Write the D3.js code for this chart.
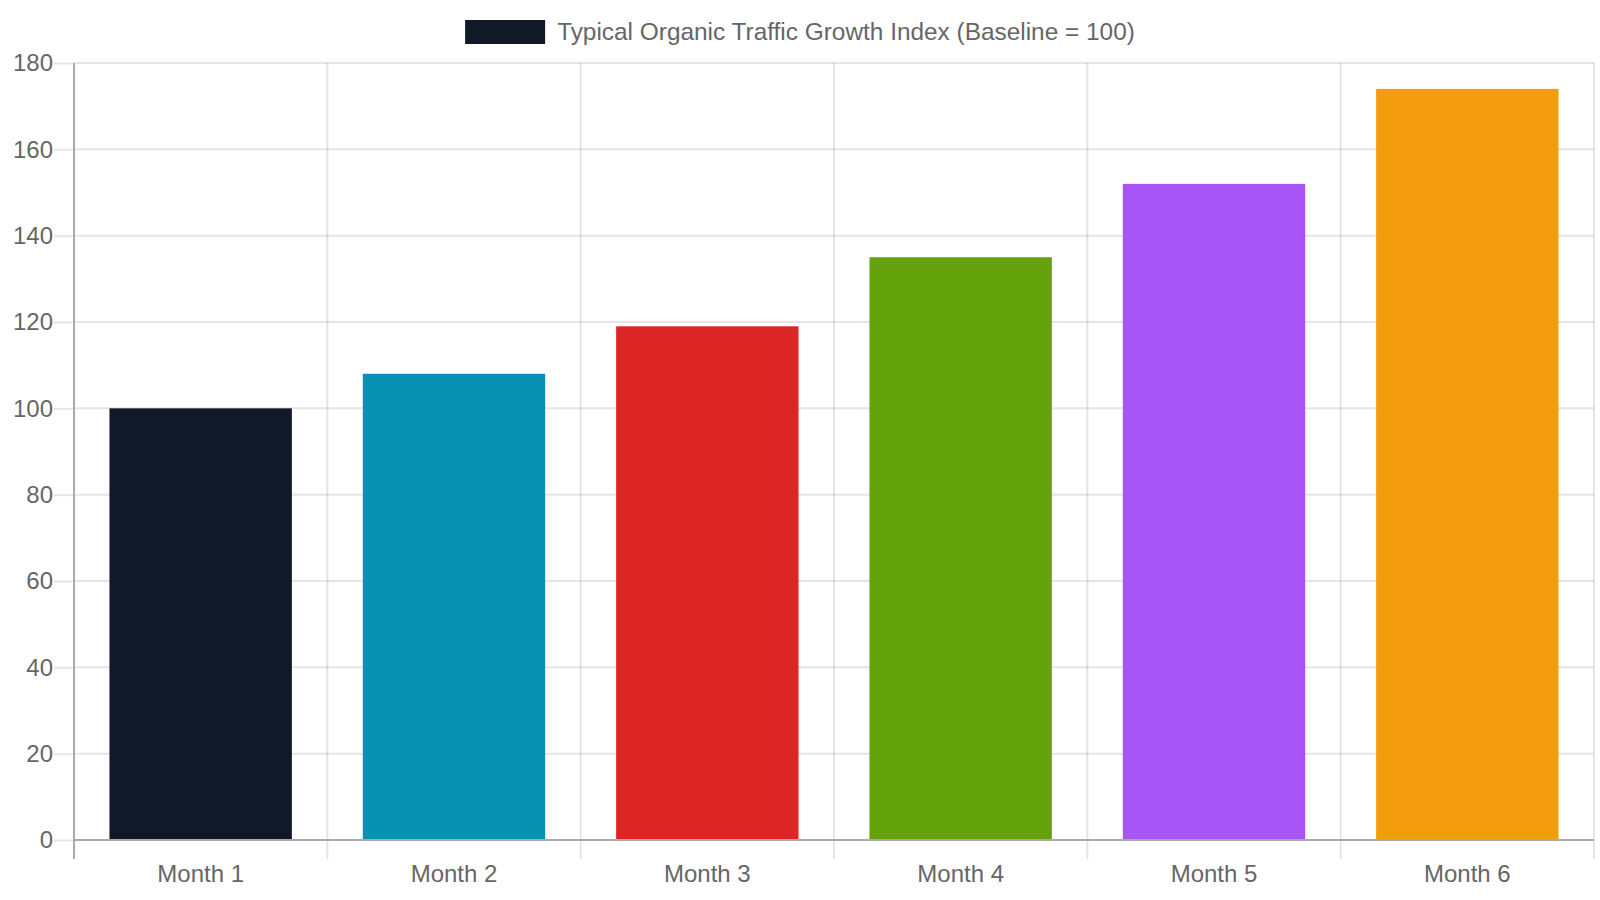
<!DOCTYPE html>
<html>
<head>
<meta charset="utf-8">
<script src="https://cdn.jsdelivr.net/npm/d3@7"></script>
<style>
  html, body { margin: 0; padding: 0; background: #fff; }
  #chart { width: 1600px; height: 900px; }
  text { font-family: "Liberation Sans", Arial, Helvetica, sans-serif; fill: #666; }
</style>
</head>
<body>
<div id="chart"></div>
<script>
// chart data
var months = ["Month 1", "Month 2", "Month 3", "Month 4", "Month 5", "Month 6"];
var growthIndex = [100, 108, 119, 135, 152, 174];
var barColors = ["#111827", "#0891b2", "#dc2626", "#65a30d", "#a855f7", "#f39c0e"];
var yTicks = [0, 20, 40, 60, 80, 100, 120, 140, 160, 180];
var seriesName = "Typical Organic Traffic Growth Index (Baseline = 100)";

var W = 1600, H = 900;
var margin = {top: 63, right: 6, bottom: 60, left: 74};
var width = W - margin.left - margin.right,
    height = H - margin.top - margin.bottom;

var data = months.map(function(m, i) { return {month: m, value: growthIndex[i], color: barColors[i]}; });

var svg = d3.select("#chart").append("svg")
    .attr("width", W)
    .attr("height", H);

// legend (centered at top)
var legend = svg.append("g");
var legendText = legend.append("text")
    .attr("font-size", 24.4)
    .attr("y", 40)
    .text(seriesName);
var textW = legendText.node().getComputedTextLength();
var legendW = 80 + 12 + textW;
var lx = (W - legendW) / 2;
legend.append("rect")
    .attr("x", lx).attr("y", 20)
    .attr("width", 80).attr("height", 24)
    .attr("fill", barColors[0]);
legendText.attr("x", lx + 92);

var g = svg.append("g")
    .attr("transform", "translate(" + margin.left + "," + margin.top + ")");

var xScale = d3.scaleBand()
    .domain(months)
    .range([0, width])
    .paddingInner(0.28)
    .paddingOuter(0.14);

var xCat = d3.scaleBand()
    .domain(months)
    .range([0, width]);

var yScale = d3.scaleLinear()
    .domain([0, 180])
    .range([height, 0]);

// horizontal grid
g.append("g")
    .selectAll("line")
    .data(yTicks.filter(function(t) { return t > 0; }))
    .enter().append("line")
    .attr("x1", 0).attr("x2", width)
    .attr("y1", function(d) { return yScale(d); })
    .attr("y2", function(d) { return yScale(d); })
    .attr("stroke", "rgba(0,0,0,0.1)")
    .attr("stroke-width", 2);

// vertical grid at category boundaries
var bounds = months.map(function(m) { return xCat(m); }).concat([width]);
g.append("g")
    .selectAll("line")
    .data(bounds.slice(1))
    .enter().append("line")
    .attr("x1", function(d) { return d; }).attr("x2", function(d) { return d; })
    .attr("y1", 0).attr("y2", height)
    .attr("stroke", "rgba(0,0,0,0.1)")
    .attr("stroke-width", 2);

// bars
g.selectAll(".bar")
    .data(data)
    .enter().append("rect")
    .attr("class", "bar")
    .attr("x", function(d) { return xScale(d.month); })
    .attr("width", xScale.bandwidth())
    .attr("y", function(d) { return yScale(d.value); })
    .attr("height", function(d) { return height - yScale(d.value); })
    .attr("fill", function(d) { return d.color; });

// y axis
var yAxis = g.append("g")
    .call(d3.axisLeft(yScale).tickValues(yTicks).tickSize(20).tickPadding(1));
yAxis.select(".domain").remove();
yAxis.selectAll(".tick line").attr("stroke", "rgba(0,0,0,0.1)").attr("stroke-width", 2);
yAxis.selectAll(".tick text").attr("font-size", 24).attr("fill", "#666")
    .style("font-family", "'Liberation Sans', Arial, sans-serif");
g.append("line")
    .attr("x1", 0).attr("x2", 0).attr("y1", 0).attr("y2", height + 19)
    .attr("stroke", "#aaa").attr("stroke-width", 2);

// x axis
var xAxis = g.append("g")
    .attr("transform", "translate(0," + height + ")")
    .call(d3.axisBottom(xScale).tickSize(0).tickPadding(25));
xAxis.select(".domain").remove();
xAxis.selectAll(".tick text").attr("font-size", 24).attr("fill", "#666")
    .style("font-family", "'Liberation Sans', Arial, sans-serif");
xAxis.selectAll(".bound")
    .data(bounds.slice(1))
    .enter().append("line")
    .attr("x1", function(d) { return d; }).attr("x2", function(d) { return d; })
    .attr("y1", 0).attr("y2", 19)
    .attr("stroke", "rgba(0,0,0,0.1)").attr("stroke-width", 2);
g.append("line")
    .attr("x1", 0).attr("x2", width).attr("y1", height).attr("y2", height)
    .attr("stroke", "#aaa").attr("stroke-width", 2);
</script>
</body>
</html>
